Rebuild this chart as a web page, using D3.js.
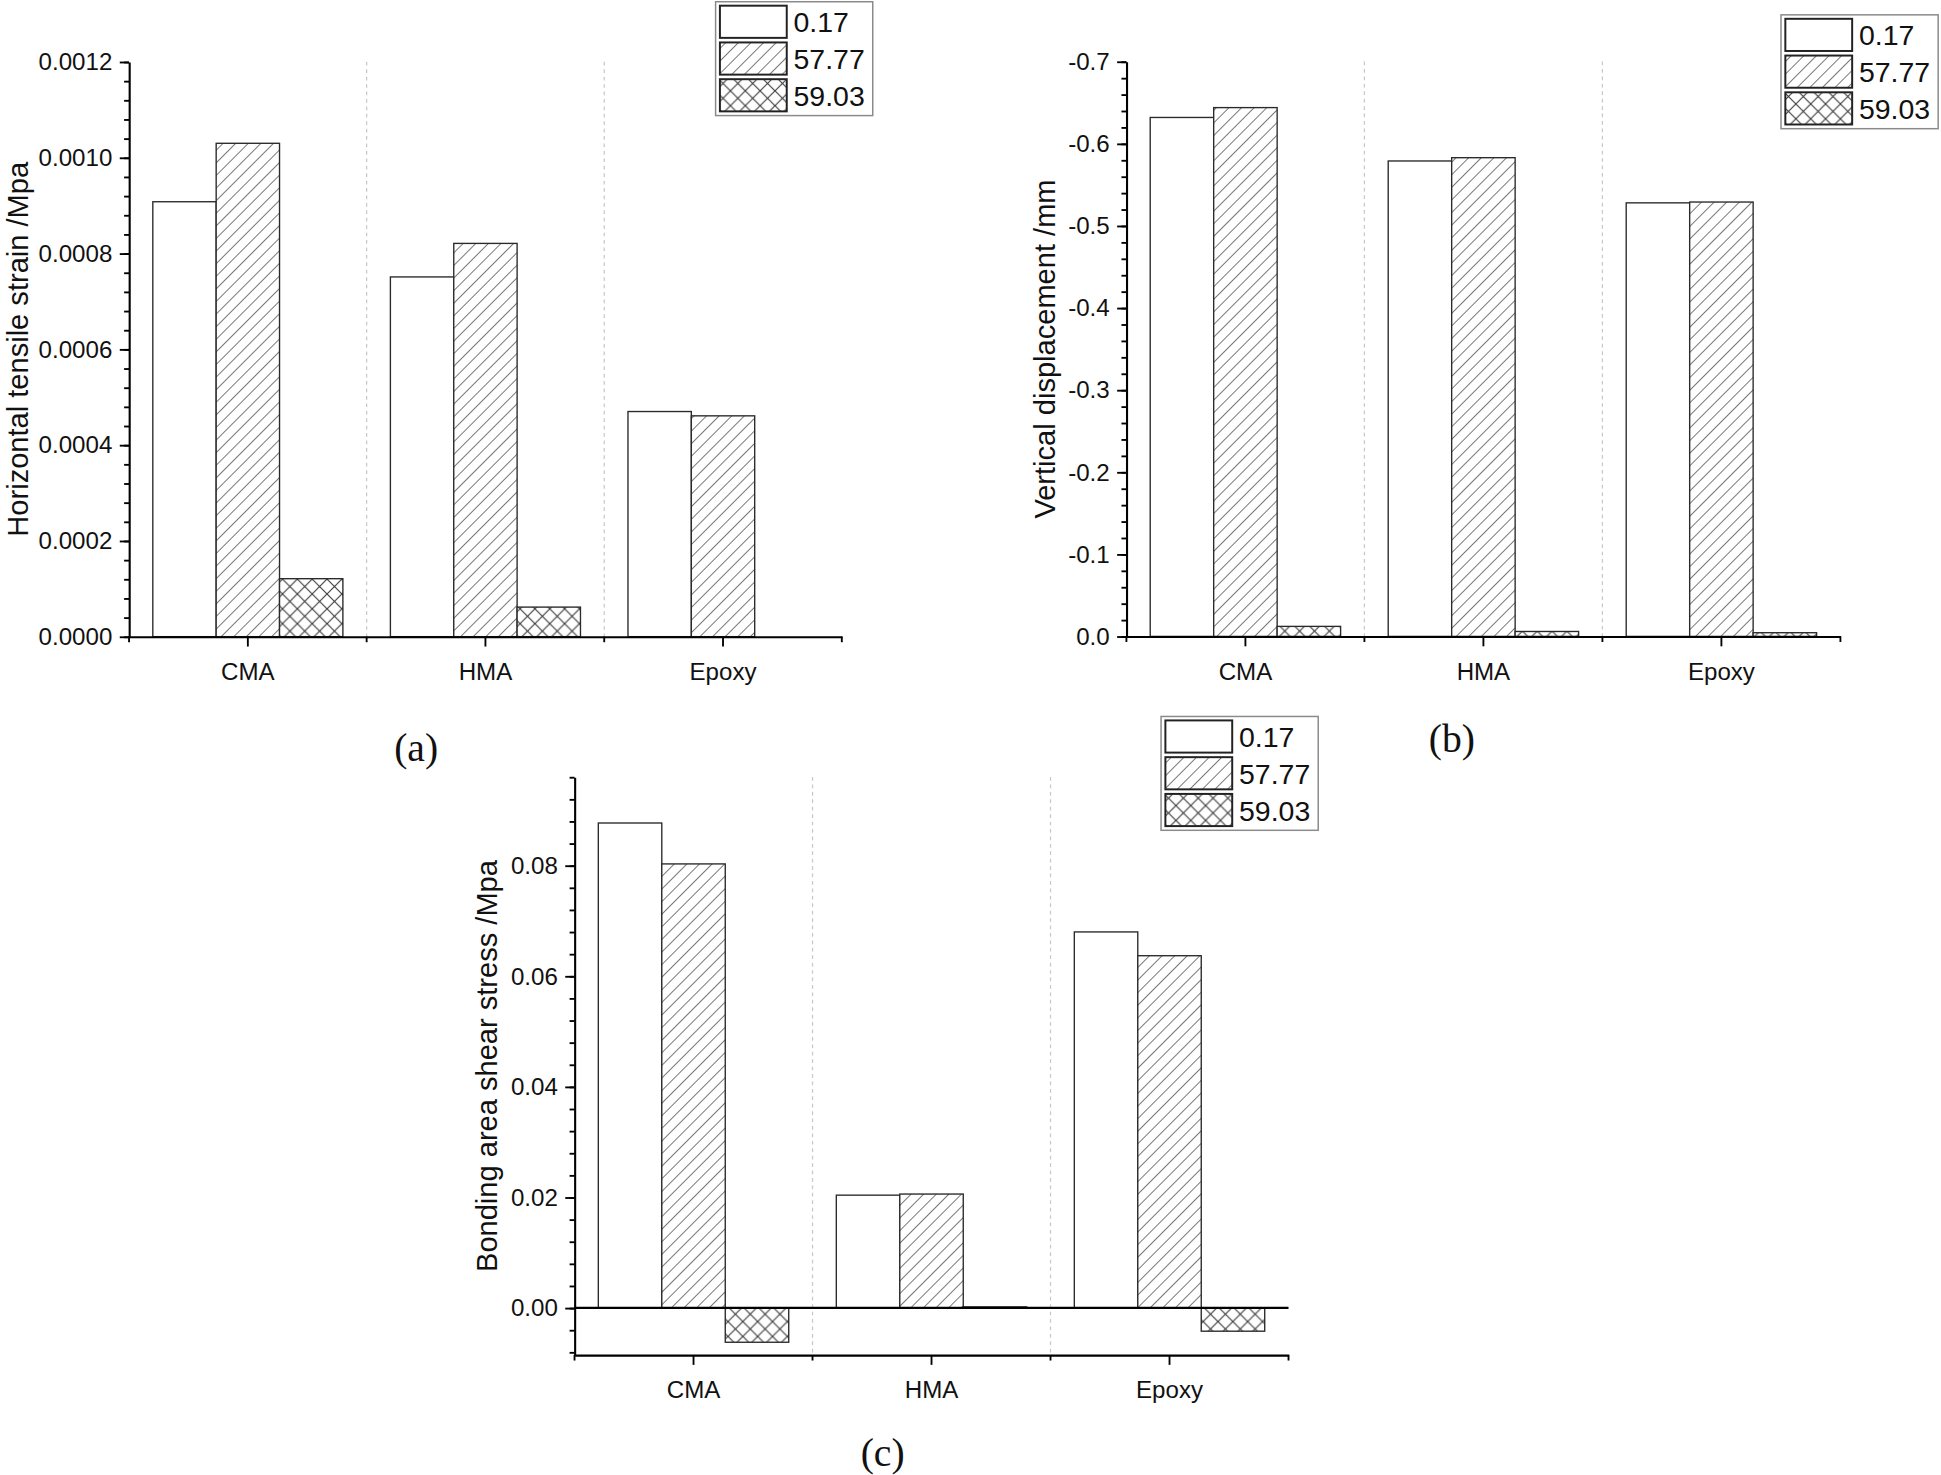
<!DOCTYPE html>
<html><head><meta charset="utf-8">
<script src="https://cdn.jsdelivr.net/npm/d3@7"></script>
<style>body{margin:0;background:#fff}</style>
</head><body>
<script>
// ---------- DATA ----------
const categories = ["CMA", "HMA", "Epoxy"];
const seriesNames = ["0.17", "57.77", "59.03"];

const strain017  = [0.000908, 0.000751, 0.000470];
const strain5777 = [0.00103, 0.000821, 0.000461];
const strain5903 = [0.000121, 0.0000617, null];

const disp017  = [-0.632, -0.579, -0.528];
const disp5777 = [-0.644, -0.583, -0.529];
const disp5903 = [-0.0122, -0.0060, -0.0045];

const shear017  = [0.0877, 0.0204, 0.0680];
const shear5777 = [0.0803, 0.0206, 0.0637];
const shear5903 = [-0.0062, 0.0002, -0.0042];

const strainTickLabels = ["0.0000","0.0002","0.0004","0.0006","0.0008","0.0010","0.0012"];
const dispTickLabels   = ["0.0","-0.1","-0.2","-0.3","-0.4","-0.5","-0.6","-0.7"];
const shearTickLabels  = ["0.00","0.02","0.04","0.06","0.08"];

// ---------- SVG ----------
const W = 1568, H = 1192;
const svg = d3.select("body").append("svg")
  .attr("width", 1941).attr("height", 1475)
  .attr("viewBox", `0 0 ${W} ${H}`)
  .style("background", "#fff");

const FONT = "'Liberation Sans', Arial, Helvetica, sans-serif";
const SERIF = "'Liberation Serif', 'Times New Roman', serif";

const defs = svg.append("defs");
const pd = defs.append("pattern").attr("id", "diag")
  .attr("patternUnits", "userSpaceOnUse").attr("width", 7.2).attr("height", 7.2)
  .attr("patternTransform", "rotate(45)");
pd.append("rect").attr("width", 7.2).attr("height", 7.2).attr("fill", "#fff");
pd.append("line").attr("x1", 0).attr("y1", 0).attr("x2", 0).attr("y2", 7.2)
  .attr("stroke", "#3a3a3a").attr("stroke-width", 1.1);
const pc = defs.append("pattern").attr("id", "cross")
  .attr("patternUnits", "userSpaceOnUse").attr("width", 12).attr("height", 12);
pc.append("rect").attr("width", 12).attr("height", 12).attr("fill", "#fff");
pc.append("path").attr("d", "M0,0L12,12M12,0L0,12")
  .attr("stroke", "#3a3a3a").attr("stroke-width", 0.9).attr("fill", "none");

const fills = ["#fff", "url(#diag)", "url(#cross)"];

function drawPanel(o) {
  const g = svg.append("g");
  const x = d3.scaleBand().domain(categories).range([o.left, o.right]).padding(0);
  const bw = x.bandwidth();
  const xs = d3.scaleBand().domain(seriesNames).range([0.1 * bw, 0.9 * bw]).padding(0);
  const y = d3.scaleLinear().domain(o.domain).range([o.bottom, o.top]);

  // separators
  g.selectAll(".sep").data(categories.slice(1)).enter().append("line")
    .attr("x1", d => x(d)).attr("x2", d => x(d))
    .attr("y1", o.top).attr("y2", o.bottom)
    .attr("stroke", "#c8c8c8").attr("stroke-width", 1).attr("stroke-dasharray", "3,3");

  // bars
  const rows = [];
  o.values.forEach((arr, si) => arr.forEach((v, ci) => {
    if (v !== null) rows.push({ s: seriesNames[si], si, c: categories[ci], v });
  }));
  g.selectAll(".bar").data(rows).enter().append("rect")
    .attr("x", d => x(d.c) + xs(d.s))
    .attr("width", xs.bandwidth())
    .attr("y", d => Math.min(y(d.v), y(0)))
    .attr("height", d => Math.abs(y(d.v) - y(0)))
    .attr("fill", d => fills[d.si])
    .attr("stroke", "#2a2a2a").attr("stroke-width", 1.1);

  // zero line
  if (o.zeroLine) {
    g.append("line").attr("x1", o.left).attr("x2", o.right)
      .attr("y1", y(0)).attr("y2", y(0))
      .attr("stroke", "#000").attr("stroke-width", 1.8);
  }

  // y axis
  const tickVals = o.tickLabels.map(Number);
  const yAxis = g.append("g").attr("transform", `translate(${o.left},0)`)
    .call(d3.axisLeft(y).tickValues(tickVals).tickFormat((d, i) => o.tickLabels[i])
      .tickSize(7.5).tickSizeOuter(0).tickPadding(6));
  const lo = Math.min(...o.domain), hi = Math.max(...o.domain);
  const minor = d3.range(Math.ceil(lo / o.minorStep - 1e-6), Math.floor(hi / o.minorStep + 1e-6) + 1)
    .map(k => k * o.minorStep);
  g.append("g").attr("transform", `translate(${o.left},0)`)
    .call(d3.axisLeft(y).tickValues(minor).tickFormat("").tickSize(4).tickSizeOuter(0))
    .select(".domain").remove();

  // x axis
  const xAxis = g.append("g").attr("transform", `translate(0,${o.bottom})`)
    .call(d3.axisBottom(x).tickSize(8).tickSizeOuter(0).tickPadding(13));
  const bounds = categories.map(c => x(c)).concat([x(categories[categories.length - 1]) + bw]);
  xAxis.selectAll(".bnd").data(bounds).enter().append("line")
    .attr("x1", d => d).attr("x2", d => d).attr("y1", 0).attr("y2", 4.5)
    .attr("stroke", "#000").attr("stroke-width", 1.5);

  [yAxis, xAxis].forEach(a => {
    a.select(".domain").attr("stroke", "#000").attr("stroke-width", 1.7);
    a.selectAll(".tick line").attr("stroke", "#000").attr("stroke-width", 1.5);
    a.selectAll("text").attr("font-family", FONT).attr("font-size", 19.5).attr("fill", "#111");
  });
  g.selectAll(".tick line").attr("stroke", "#000").attr("stroke-width", 1.5);

  // axis title
  g.append("text")
    .attr("transform", `translate(${o.titleX},${(o.top + o.bottom) / 2}) rotate(-90)`)
    .attr("text-anchor", "middle").attr("font-family", FONT).attr("font-size", 23.5)
    .attr("fill", "#111").text(o.title);

  // legend
  const L = o.legend;
  const lg = g.append("g").attr("transform", `translate(${L.x},${L.y})`);
  lg.append("rect").attr("x", 0).attr("y", 0).attr("width", 127).attr("height", 92)
    .attr("fill", "#fff").attr("stroke", "#8a8a8a").attr("stroke-width", 1.2);
  seriesNames.forEach((s, i) => {
    const ry = 3.2 + i * 29.7;
    lg.append("rect").attr("x", 3.5).attr("y", ry).attr("width", 54).attr("height", 26)
      .attr("fill", fills[i]).attr("stroke", "#222").attr("stroke-width", 1.6);
    lg.append("text").attr("x", 63).attr("y", ry + 21.5)
      .attr("font-family", FONT).attr("font-size", 23).attr("fill", "#111").text(s);
  });

  // panel label
  svg.append("text").attr("x", o.label.x).attr("y", o.label.y)
    .attr("text-anchor", "middle").attr("font-family", SERIF).attr("font-size", 32)
    .attr("fill", "#111").text(o.label.t);
}

drawPanel({
  left: 104, right: 680, top: 50, bottom: 514.5,
  domain: [0, 0.0012], values: [strain017, strain5777, strain5903],
  tickLabels: strainTickLabels, minorStep: 0.00004,
  title: "Horizontal tensile strain /Mpa", titleX: 22,
  legend: { x: 578, y: 1.4 }, label: { x: 336, y: 615, t: "(a)" }
});

drawPanel({
  left: 910, right: 1487, top: 49.8, bottom: 514.3,
  domain: [0, -0.7], values: [disp017, disp5777, disp5903],
  tickLabels: dispTickLabels, minorStep: 0.02,
  title: "Vertical displacement /mm", titleX: 852,
  legend: { x: 1439, y: 12 }, label: { x: 1173, y: 608, t: "(b)" }
});

drawPanel({
  left: 464, right: 1041, top: 628, bottom: 1095,
  domain: [-0.0085, 0.096], values: [shear017, shear5777, shear5903],
  tickLabels: shearTickLabels, minorStep: 0.004, zeroLine: true,
  title: "Bonding area shear stress /Mpa", titleX: 401,
  legend: { x: 938, y: 579 }, label: { x: 713, y: 1185, t: "(c)" }
});
</script>
</body></html>
